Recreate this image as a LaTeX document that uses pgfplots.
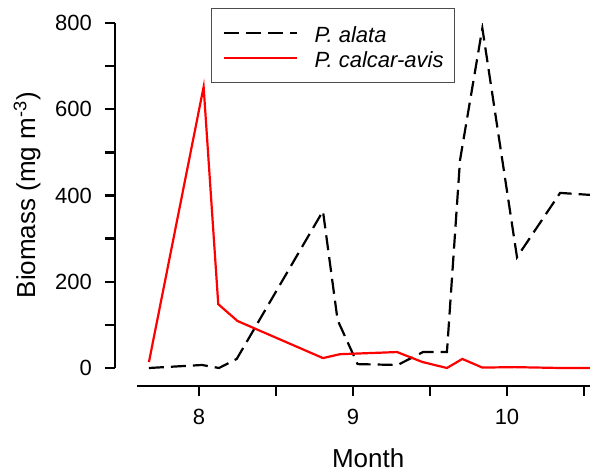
\documentclass[border=0pt]{standalone}
\usepackage{fontspec}
\setmainfont{Liberation Sans}
\usepackage{pgfplots}
\pgfplotsset{compat=1.18}

\begin{document}
\begin{tikzpicture}
\begin{axis}[
  scale only axis, width=237.5pt, height=181.5pt,
  xmin=7.4545, xmax=10.539, ymin=-41.74, ymax=800,
  axis x line*=bottom, axis y line*=left,
  axis line style={line width=1.3pt},
  x axis line style={shorten <=11pt},
  y axis line style={shorten <=9pt},
  tick align=outside, major tick length=5pt,
  tick style={line width=1.2pt, black},
  xtick={8,8.5,9,9.5,10,10.5}, xticklabels={8,,9,,10,},
  ytick={0,100,...,800}, yticklabels={0,,200,,400,,600,,800},
  /pgf/number format/assume math mode=true,
  tick label style={font=\fontsize{11}{13}\selectfont},
  xticklabel style={yshift=-3pt},
  yticklabel style={xshift=-3pt},
  xlabel={Month}, ylabel={Biomass (mg m\textsuperscript{-3})},
  every axis x label/.style={at={(rel axis cs:0.533,0)}, anchor=center,
    yshift=-36.25pt, font=\fontsize{13}{15}\selectfont},
  every axis y label/.style={at={(rel axis cs:0,0.526)}, anchor=center,
    xshift=-44pt, rotate=90, font=\fontsize{13}{15}\selectfont},
  legend style={at={(rel axis cs:0.202,1.041)}, anchor=north west,
    draw=black!70, line width=0.6pt, font=\itshape\fontsize{11}{13}\selectfont,
    inner xsep=5.5pt, inner ysep=7pt, row sep=2pt,
    nodes={inner sep=0pt, text height=10pt, text depth=0.5pt}},
  legend cell align=left,
  legend image code/.code={\draw[#1] (0pt,0pt) -- (36.5pt,0pt); \path (45pt,0pt);},
]
\addplot[black, line width=1.1pt, dash pattern=on 7.5pt off 3.5pt] coordinates {
  (7.675,0) (8.02,7) (8.13,0) (8.245,21) (8.805,364) (8.90,111) (9.03,9)
  (9.29,7) (9.455,37) (9.61,37) (9.695,482) (9.84,788) (10.065,257)
  (10.345,406) (10.6,400)};
\addlegendentry{P. alata}
\addplot[red, line width=1.1pt] coordinates {
  (7.675,14) (8.03,652) (8.125,148) (8.25,109) (8.805,23) (8.915,32)
  (9.286,37) (9.45,14) (9.61,0) (9.71,21) (9.84,1) (10.05,2) (10.35,0) (10.6,0)};
\addlegendentry{P. calcar-avis}
\end{axis}
\pgfresetboundingbox
\useasboundingbox (-57.5pt,-43pt) rectangle (237.5pt,193pt);
\end{tikzpicture}
\end{document}
